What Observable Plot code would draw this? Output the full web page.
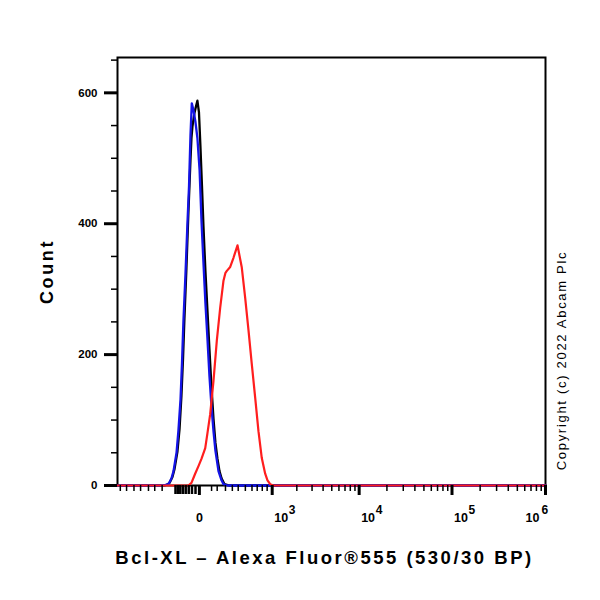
<!DOCTYPE html>
<html>
<head>
<meta charset="utf-8">
<script src="https://cdn.jsdelivr.net/npm/d3@7"></script>
<script src="https://cdn.jsdelivr.net/npm/@observablehq/plot@0.6"></script>
<style>
  body { margin: 0; background: #ffffff; }
  #chart { width: 600px; height: 600px; }
</style>
</head>
<body>
<div id="chart"></div>
<script>
// ---- texts ----
const xLabel = "Bcl-XL – Alexa Fluor®555 (530/30 BP)";
const yLabel = "Count";
const credit = "Copyright (c) 2022 Abcam Plc";

// ---- series: [fluorescence intensity, count] ----
// black: unlabelled control
const unstained = [
  [-1300, 0], [-296, 0], [-249, 1], [-217, 4], [-188, 13], [-169, 25], [-143, 52],
  [-126, 86], [-111, 137], [-99, 194], [-89, 255], [-75, 332], [-62, 417], [-49, 497],
  [-43, 531], [-37, 549], [-26, 569], [-17, 580], [-10, 588], [-2, 570], [5, 520],
  [13, 459], [21, 397], [32, 328], [44, 267], [56, 209], [69, 152], [83, 102],
  [97, 65], [112, 41], [128, 22], [145, 11], [171, 2], [219, 0], [1000000, 0]
];
// blue: isotype control
const isotype = [
  [-1300, 0], [-308, 0], [-261, 1], [-228, 2], [-197, 11], [-178, 22], [-151, 50],
  [-135, 84], [-118, 132], [-107, 186], [-96, 252], [-82, 321], [-68, 402], [-58, 458],
  [-49, 535], [-41, 584], [-31, 573], [-20, 555], [-10, 531], [1, 482], [11, 402],
  [21, 341], [32, 279], [44, 224], [56, 168], [69, 122], [83, 83], [97, 53],
  [120, 22], [145, 8], [162, 2], [199, 0], [1000000, 0]
];
// red: Bcl-XL
const bclxl = [
  [-1300, 0], [-62, 0], [-43, 4], [-22, 18], [-4, 30], [11, 41], [31, 57], [44, 80],
  [61, 109], [83, 160], [107, 221], [134, 272], [162, 313], [180, 325], [193, 328],
  [227, 334], [263, 348], [311, 367], [337, 351], [368, 333], [417, 287], [470, 237],
  [526, 186], [590, 134], [656, 83], [729, 42], [810, 18], [869, 8], [942, 2],
  [1039, 0], [1000000, 0]
];

// ---- ticks ----
const yMajorTicks = [0, 200, 400, 600];
const yMinorTicks = [50, 100, 150, 250, 300, 350, 450, 500, 550, 650];
const xZeroTick = [0];
const xDecadeTicks = [1000, 10000, 100000, 1000000];
const xDecadeExponents = ["3", "4", "5", "6"];
const xNearZeroTicks = [-160, -140, -120, -100, -80, -60, -40, -20];
const xNegMinorTicks = [-1200, -1000, -800, -650, -500, -400, -300];
const xLinMinorTicks = [70, 110, 180, 250, 320, 420, 530, 630, 740, 860];
const xLogMinorTicks = [
  2000, 3000, 4000, 5000, 6000, 7000, 8000, 9000,
  20000, 30000, 40000, 50000, 60000, 70000, 80000, 90000,
  200000, 300000, 400000, 500000, 600000, 700000, 800000, 900000
];

const fontFamily = '"Liberation Sans", Arial, Helvetica, sans-serif';
const blank = () => "";

const chart = Plot.plot({
  width: 600,
  height: 600,
  marginLeft: 117,
  marginRight: 55,
  marginTop: 57,
  marginBottom: 115,
  style: { fontFamily, color: "black", background: "white", overflow: "visible" },
  x: { type: "symlog", constant: 200, domain: [-1300, 1000000] },
  y: { domain: [0, 654] },
  marks: [
    Plot.frame({ stroke: "black", strokeWidth: 2 }),
    Plot.line(unstained, { x: d => d[0], y: d => d[1], stroke: "#000000", strokeWidth: 2.3 }),
    Plot.line(isotype, { x: d => d[0], y: d => d[1], stroke: "#1414e6", strokeWidth: 2.3 }),
    Plot.line(bclxl, { x: d => d[0], y: d => d[1], stroke: "#ff1e1e", strokeWidth: 2.2 }),

    Plot.axisY({ ticks: yMajorTicks, tickSize: 13, tickPadding: 7, strokeWidth: 3,
                 fontSize: 11.5, fontWeight: "bold", label: null }),
    Plot.axisY({ ticks: yMinorTicks, tickSize: 6, strokeWidth: 1.5, tickFormat: blank, label: null }),

    Plot.axisX({ ticks: xZeroTick.concat(xDecadeTicks), tickSize: 10, strokeWidth: 3, tickFormat: blank, label: null }),
    Plot.axisX({ ticks: xNearZeroTicks, tickSize: 9, strokeWidth: 2.5, tickFormat: blank, label: null }),
    Plot.axisX({ ticks: xNegMinorTicks.concat(xLinMinorTicks, xLogMinorTicks), tickSize: 6, strokeWidth: 1.5,
                 tickFormat: blank, label: null }),

    // x tick labels
    Plot.text(xZeroTick, { x: d => d, text: () => "0", frameAnchor: "bottom", lineAnchor: "top",
                           dy: 28, fontSize: 12.5, fontWeight: "bold" }),
    Plot.text(xDecadeTicks.slice(0, 3), { x: d => d, text: () => "10", frameAnchor: "bottom", lineAnchor: "top",
                           textAnchor: "start", dx: 2, dy: 28, fontSize: 12.5, fontWeight: "bold" }),
    Plot.text(xDecadeTicks.slice(0, 3), { x: d => d, text: (d, i) => xDecadeExponents[i], frameAnchor: "bottom",
                           lineAnchor: "top", textAnchor: "start", dx: 16.5, dy: 20, fontSize: 12, fontWeight: "bold" }),
    Plot.text(xDecadeTicks.slice(3), { x: d => d, text: () => "10", frameAnchor: "bottom", lineAnchor: "top",
                           textAnchor: "end", dx: -6, dy: 28, fontSize: 12.5, fontWeight: "bold" }),
    Plot.text(xDecadeTicks.slice(3), { x: d => d, text: () => xDecadeExponents[3], frameAnchor: "bottom",
                           lineAnchor: "top", textAnchor: "start", dx: -4, dy: 20, fontSize: 12, fontWeight: "bold" }),

    // axis titles and credit
    Plot.text([xLabel], { text: d => d, frameAnchor: "bottom", textAnchor: "middle", dx: -7, dy: 78,
                          fontSize: 18.5, fontWeight: "bold" }),
    Plot.text([yLabel], { text: d => d, frameAnchor: "left", textAnchor: "middle", dx: -70, rotate: -90,
                          fontSize: 18, fontWeight: "bold" }),
    Plot.text([credit], { text: d => d, frameAnchor: "right", textAnchor: "middle", dx: 16, dy: 89, rotate: -90,
                          fontSize: 13 })
  ]
});

d3.select(chart).selectAll("text").each(function () {
  const t = this.textContent;
  if (t === xLabel) this.style.letterSpacing = "2.5px";
  else if (t === yLabel) this.style.letterSpacing = "2.6px";
  else if (t === credit) this.style.letterSpacing = "1.7px";
});

document.getElementById("chart").appendChild(chart);
</script>
</body>
</html>
